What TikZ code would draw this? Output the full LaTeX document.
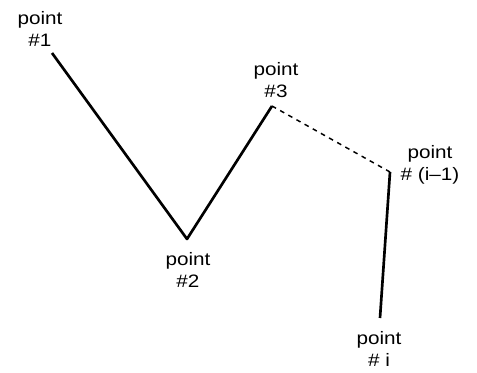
\documentclass[tikz,border=0pt]{standalone}
\usepackage{fontspec}
\setmainfont{Liberation Sans}[FakeStretch=1.15]
\usepackage{tikz}
\usetikzlibrary{positioning}

\begin{document}
\begin{tikzpicture}[x=0.75pt, y=-0.75pt,
    lbl/.style={font=\fontsize{13.5pt}{17pt}\selectfont, align=center, inner sep=0pt},
    seg/.style={line width=2pt, line join=round},
    gap/.style={line width=1.1pt, dash pattern=on 3.5pt off 3.5pt}]
    \useasboundingbox (0,0) rectangle (477,372);

    % corner points of the path
    \coordinate (p1) at (52,53);
    \coordinate (p2) at (187,239);
    \coordinate (p3) at (272,106);
    \coordinate (pm) at (390,172);
    \coordinate (pi) at (380,318);

    \draw[seg] (p1) -- (p2) -- (p3);
    \draw[gap] (p3) -- (pm);
    \draw[seg] (pm) -- (pi);

    % labels
    \node[lbl] (l1) at (40,29) {point\\\#1};
    \node[lbl] (l3) at (276,80) {point\\\#3};
    \node[lbl] (lm) at (430,165) {point\\\# (i--1)};
    \node[lbl] (l2) at (188,270) {point\\\#2};
    \node[lbl] (li) at (379,349) {point\\\# i};
\end{tikzpicture}
\end{document}
